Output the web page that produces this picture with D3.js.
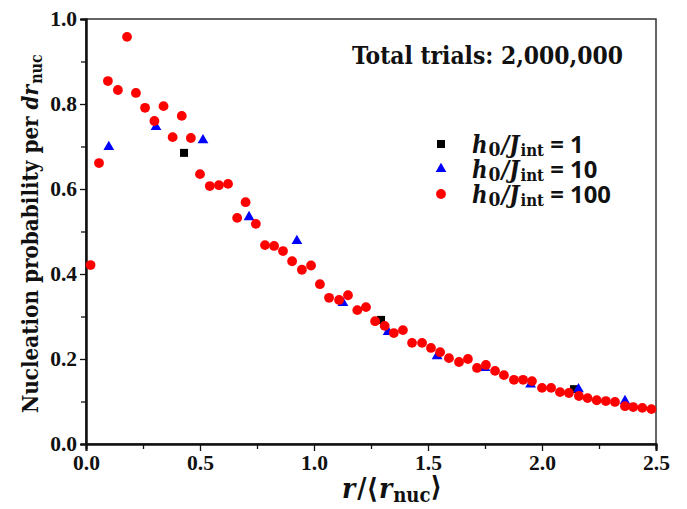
<!DOCTYPE html>
<html>
<head>
<meta charset="utf-8">
<script src="https://cdn.jsdelivr.net/npm/d3@7"></script>
<style>
  body { margin: 0; background: #fff; }
  svg text { font-family: "Liberation Serif", "DejaVu Serif", serif; font-weight: bold; fill: #111; }
  svg text.wide { font-family: "DejaVu Serif Condensed", "DejaVu Serif", serif; }
</style>
</head>
<body>
<div id="chart"></div>
<script>
// h0/Jint = 100 (red circles)
const r100 = [0.02, 0.057, 0.096, 0.14, 0.18, 0.219, 0.259, 0.30, 0.34, 0.38, 0.42, 0.46, 0.50, 0.543, 0.583, 0.623,
  0.663, 0.70, 0.745, 0.785, 0.825, 0.864, 0.904, 0.947, 0.987, 1.026, 1.066, 1.11, 1.149, 1.19, 1.228, 1.268,
  1.31, 1.35, 1.39, 1.43, 1.474, 1.513, 1.553, 1.592, 1.636, 1.675, 1.715, 1.754, 1.794, 1.833, 1.877, 1.917,
  1.956, 2.0, 2.04, 2.079, 2.118, 2.162, 2.2, 2.24, 2.28, 2.32, 2.364, 2.40, 2.44, 2.48];
const p100 = [0.421, 0.661, 0.854, 0.833, 0.958, 0.826, 0.791, 0.76, 0.795, 0.722, 0.772, 0.72, 0.635, 0.607, 0.609, 0.612,
  0.532, 0.569, 0.518, 0.468, 0.466, 0.454, 0.43, 0.41, 0.42, 0.376, 0.344, 0.339, 0.35, 0.315, 0.322, 0.289,
  0.278, 0.261, 0.268, 0.238, 0.238, 0.226, 0.216, 0.202, 0.193, 0.2, 0.179, 0.186, 0.172, 0.162, 0.151, 0.151,
  0.148, 0.132, 0.132, 0.122, 0.12, 0.113, 0.108, 0.103, 0.101, 0.099, 0.089, 0.087, 0.085, 0.082];

// h0/Jint = 10 (blue triangles)
const r10 = [0.10, 0.307, 0.513, 0.715, 0.925, 1.127, 1.325, 1.54, 1.75, 1.95, 2.16, 2.364];
const p10 = [0.699, 0.746, 0.715, 0.534, 0.478, 0.332, 0.264, 0.207, 0.179, 0.14, 0.129, 0.101];

// h0/Jint = 1 (black squares)
const r1 = [0.43, 1.294, 2.14];
const p1 = [0.685, 0.292, 0.129];

const xMajor = [0, 0.5, 1.0, 1.5, 2.0, 2.5];
const xMinor = [0.25, 0.75, 1.25, 1.75, 2.25];
const yMajor = [0, 0.2, 0.4, 0.6, 0.8, 1.0];
const yMinor = [0.1, 0.3, 0.5, 0.7, 0.9];

const legendLabels = ["1", "10", "100"];

const width = 687, height = 509;
const margin = {left: 86, right: 31, top: 19, bottom: 65};

const x = d3.scaleLinear().domain([0, 2.5]).range([margin.left, width - margin.right]);
const y = d3.scaleLinear().domain([0, 1]).range([height - margin.bottom, margin.top]);

const svg = d3.select("#chart").append("svg")
  .attr("width", width)
  .attr("height", height);

// shrink/grow a text block's font size so it spans a given width
function fitWidth(sel, w) {
  const cur = sel.node().getComputedTextLength();
  const fs = parseFloat(sel.style("font-size"));
  sel.style("font-size", (fs * w / cur) + "px");
}

// frame (top and right lines)
svg.append("rect")
  .attr("x", x(0)).attr("y", y(1))
  .attr("width", x(2.5) - x(0)).attr("height", y(0) - y(1))
  .attr("fill", "none").attr("stroke", "#333").attr("stroke-width", 1.5);

// axes
const fmt = d3.format(".1f");
svg.append("g").attr("transform", `translate(0,${y(0)})`)
  .call(d3.axisBottom(x).tickValues(xMajor).tickFormat(fmt).tickSize(7).tickPadding(4));
svg.append("g").attr("transform", `translate(0,${y(0)})`)
  .call(d3.axisBottom(x).tickValues(xMinor).tickFormat("").tickSize(5));
svg.append("g").attr("transform", `translate(${x(0)},0)`)
  .call(d3.axisLeft(y).tickValues(yMajor).tickFormat(fmt).tickSize(6).tickPadding(3));
svg.append("g").attr("transform", `translate(${x(0)},0)`)
  .call(d3.axisLeft(y).tickValues(yMinor).tickFormat("").tickSize(5));

svg.selectAll(".domain").attr("stroke", "#111").attr("stroke-width", 2);
svg.selectAll(".tick line").attr("stroke", "#111").attr("stroke-width", 1.3);
svg.selectAll(".tick text").attr("fill", "#111").style("font-size", "21.5px");

// markers: squares, then triangles, then circles on top
svg.append("g").selectAll("rect")
  .data(d3.zip(r1, p1))
  .join("rect")
  .attr("x", d => x(d[0]) - 4).attr("y", d => y(d[1]) - 4)
  .attr("width", 8).attr("height", 8)
  .attr("fill", "#000");

const tri = d3.symbol().type(d3.symbolTriangle).size(50);
svg.append("g").selectAll("path")
  .data(d3.zip(r10, p10))
  .join("path")
  .attr("d", tri)
  .attr("transform", d => `translate(${x(d[0])},${y(d[1])})`)
  .attr("fill", "#0000ff");

svg.append("g").selectAll("circle")
  .data(d3.zip(r100, p100))
  .join("circle")
  .attr("cx", d => x(d[0])).attr("cy", d => y(d[1]))
  .attr("r", 4.9)
  .attr("fill", "#ff0000");

// annotation
const ann = svg.append("text").attr("class", "wide")
  .attr("x", 352).attr("y", 64)
  .style("font-size", "22px")
  .text("Total trials: 2,000,000");
fitWidth(ann, 271);

// legend
const leg = svg.append("g");
const lx = 441, ly = [144, 169, 194];
leg.append("rect").attr("x", lx - 4).attr("y", ly[0] - 4).attr("width", 8).attr("height", 8).attr("fill", "#000");
leg.append("path").attr("d", tri).attr("transform", `translate(${lx},${ly[1]})`).attr("fill", "#0000ff");
leg.append("circle").attr("cx", lx).attr("cy", ly[2]).attr("r", 4.9).attr("fill", "#ff0000");

legendLabels.forEach((lab, i) => {
  const t = leg.append("text").attr("class", "wide").attr("x", 472).attr("y", ly[i] + 9).style("font-size", "23px");
  t.append("tspan").style("font-style", "italic").text("h");
  t.append("tspan").attr("dx", 1).attr("dy", "0.15em").style("font-size", "0.8em").text("0");
  t.append("tspan").attr("dx", 1).attr("dy", "-0.12em").style("font-style", "italic").text("/J");
  t.append("tspan").attr("dx", 1).attr("dy", "0.17em").style("font-size", "0.7em").text("int");
  t.append("tspan").attr("dy", "-0.12em")
    .style("font-family", "'Open Sans', 'Liberation Sans', sans-serif").text(" = " + lab);
  if (i === 2) fitWidth(t, 136);
});
// keep all three legend rows at the same size
const lfs = leg.selectAll("text").filter((d, i) => i === 2).style("font-size");
leg.selectAll("text").style("font-size", lfs);

// y axis title (reads bottom to top)
const yt = svg.append("text").attr("class", "wide")
  .attr("transform", "translate(38,413) rotate(-90)")
  .style("font-size", "21px");
yt.append("tspan").text("Nucleation probability per ");
yt.append("tspan").style("font-style", "italic").text("dr");
yt.append("tspan").attr("dx", 1).attr("dy", "0.22em").style("font-size", "0.72em").text("nuc");
fitWidth(yt, 358);

// x axis title
const xt = svg.append("text").attr("class", "wide")
  .attr("x", 342).attr("y", 498)
  .style("font-size", "23px");
xt.append("tspan").style("font-style", "italic").text("r");
xt.append("tspan").attr("dx", 2).text("/\u27E8");
xt.append("tspan").attr("dx", 1).style("font-style", "italic").text("r");
xt.append("tspan").attr("dx", 1).attr("dy", "0.22em").style("font-size", "0.72em").text("nuc");
xt.append("tspan").attr("dy", "-0.22em").text("\u27E9");
fitWidth(xt, 96);
</script>
</body>
</html>
